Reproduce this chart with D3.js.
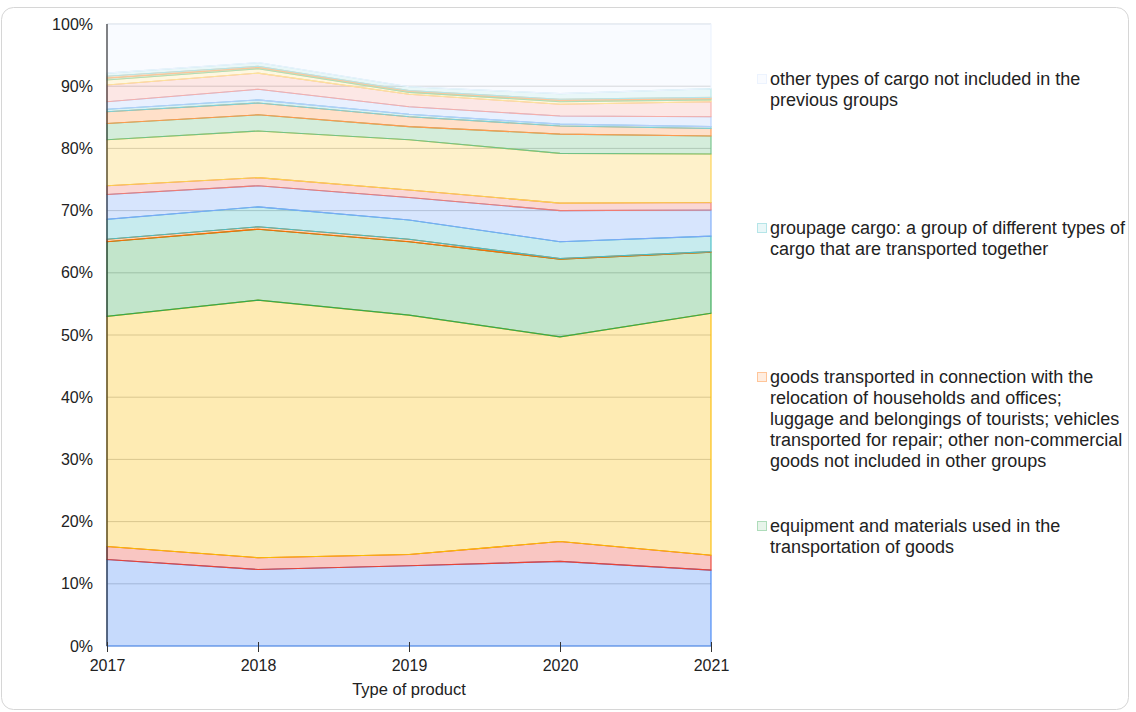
<!DOCTYPE html>
<html>
<head>
<meta charset="utf-8">
<script src="https://cdn.jsdelivr.net/npm/d3@7"></script>
<style>
  body { margin: 0; background: #fff; font-family: "Liberation Sans", Arial, sans-serif; }
  svg text { fill: #222; }
</style>
</head>
<body>
<svg id="chart" width="1136" height="712"></svg>
<script>
// years on the x axis
var years = [2017, 2018, 2019, 2020, 2021];

// series, bottom of the stack first
var seriesNames = [
  "products of agriculture, hunting and forestry; fish",
  "coal and lignite; crude petroleum and natural gas",
  "metal ores and other mining and quarrying products",
  "food products, beverages and tobacco",
  "textiles and textile products; leather",
  "wood and products of wood and cork; paper; printed matter",
  "coke and refined petroleum products",
  "chemicals, chemical products and man-made fibres",
  "other non-metallic mineral products",
  "basic metals; fabricated metal products",
  "machinery and equipment",
  "transport equipment",
  "furniture; other manufactured goods",
  "secondary raw materials; municipal and other wastes",
  "mail, parcels",
  "equipment and materials used in the transportation of goods",
  "goods transported in connection with the relocation of households and offices; luggage and belongings of tourists; vehicles transported for repair; other non-commercial goods not included in other groups",
  "groupage cargo: a group of different types of cargo that are transported together",
  "other types of cargo not included in the previous groups"
];

// shares (%) per year, same order as seriesNames
var v2017 = [13.9, 2.1, 37.0, 12.0, 0.4, 3.2, 4.0, 1.4, 7.4, 2.6, 1.9, 0.4, 1.2, 2.7, 0.8, 0.3, 0.3, 0.5, 7.9];
var v2018 = [12.3, 1.9, 41.4, 11.4, 0.4, 3.2, 3.4, 1.3, 7.5, 2.6, 1.9, 0.5, 1.7, 2.6, 0.7, 0.2, 0.2, 0.6, 6.2];
var v2019 = [12.9, 1.8, 38.5, 11.8, 0.4, 3.1, 3.6, 1.2, 8.1, 2.1, 1.6, 0.4, 1.2, 2.0, 0.3, 0.2, 0.1, 0.6, 10.1];
var v2020 = [13.6, 3.2, 32.9, 12.5, 0.1, 2.7, 5.0, 1.2, 8.0, 3.1, 1.3, 0.3, 1.3, 1.9, 0.4, 0.2, 0.2, 0.9, 11.2];
var v2021 = [12.2, 2.4, 38.9, 9.8, 0.1, 2.5, 4.2, 1.2, 7.8, 2.9, 1.2, 0.3, 1.6, 2.4, 0.3, 0.2, 0.2, 1.4, 10.4];

var colors = ["#4285f4", "#ea4335", "#fbbc04", "#34a853", "#ff6d01", "#46bdc6",
              "#7baaf7", "#f07b72", "#fcd04f", "#71c287", "#ff994d", "#7ed1d7",
              "#b3cefb", "#f6aea9", "#fde49b", "#aedcba", "#ffc599", "#b5e5e8", "#ecf3fe"];

// legend only lists the top four series (wrapped as in the picture)
var legendSeries = [18, 17, 16, 15];
var legendLines = [
  ["other types of cargo not included in the", "previous groups"],
  ["groupage cargo: a group of different types of", "cargo that are transported together"],
  ["goods transported in connection with the", "relocation of households and offices;",
   "luggage and belongings of tourists; vehicles", "transported for repair; other non-commercial",
   "goods not included in other groups"],
  ["equipment and materials used in the", "transportation of goods"]
];

var yTicks = [0, 0.1, 0.2, 0.3, 0.4, 0.5, 0.6, 0.7, 0.8, 0.9, 1];

var allValues = [v2017, v2018, v2019, v2020, v2021];
var rows = years.map(function(yr, i) {
  var r = { year: yr };
  seriesNames.forEach(function(n, k) { r[k] = allValues[i][k]; });
  return r;
});

var svg = d3.select("#chart");

// card border
svg.append("rect").attr("x", 1.5).attr("y", 7.5).attr("width", 1127).attr("height", 702)
  .attr("rx", 12).attr("fill", "none").attr("stroke", "#d6d6d6");

var plotL = 107, plotR = 711, plotT = 24, plotB = 646;
var x = d3.scaleLinear().domain([2017, 2021]).range([plotL, plotR]);
var y = d3.scaleLinear().domain([0, 1]).range([plotB, plotT]);

// gridlines
svg.append("g").selectAll("line").data(yTicks).enter().append("line")
  .attr("x1", plotL).attr("x2", plotR)
  .attr("y1", function(d) { return y(d); }).attr("y2", function(d) { return y(d); })
  .attr("stroke", "#cccccc").attr("stroke-width", 1);

var stack = d3.stack().keys(d3.range(seriesNames.length)).offset(d3.stackOffsetExpand);
var layers = stack(rows);

var area = d3.area()
  .x(function(d) { return x(d.data.year); })
  .y0(function(d) { return y(d[0]); })
  .y1(function(d) { return y(d[1]); });

svg.append("g").selectAll("path").data(layers).enter().append("path")
  .attr("d", area)
  .attr("fill", function(d, i) { return colors[i]; })
  .attr("fill-opacity", 0.3)
  .attr("stroke", function(d, i) { return colors[i]; })
  .attr("stroke-width", 1.1);

// y axis labels
var yAxis = d3.axisLeft(y).tickValues(yTicks).tickFormat(d3.format(".0%")).tickSize(0).tickPadding(14);
var gy = svg.append("g").attr("transform", "translate(" + plotL + ",0)").call(yAxis);
gy.select(".domain").remove();
gy.selectAll("text").style("font-size", "16px").style("font-family", "Liberation Sans, Arial, sans-serif").attr("fill", "#222");

svg.append("line").attr("x1", plotL).attr("x2", plotL).attr("y1", plotT).attr("y2", plotB)
  .attr("stroke", "#333").attr("stroke-width", 1.2);

// x axis
var xAxis = d3.axisBottom(x).tickValues(years).tickFormat(d3.format("d")).tickSize(10).tickPadding(8);
var gx = svg.append("g").attr("transform", "translate(0," + (plotB - 4) + ")").call(xAxis);
gx.select(".domain").remove();
gx.selectAll(".tick line").attr("stroke", "#333");
gx.selectAll("text").style("font-size", "16px").style("font-family", "Liberation Sans, Arial, sans-serif").attr("fill", "#222");

svg.append("text").attr("x", (plotL + plotR) / 2).attr("y", 695)
  .attr("text-anchor", "middle").style("font-size", "16.5px").text("Type of product");

// legend
var lg = svg.append("g").selectAll("g").data(legendSeries).enter().append("g")
  .attr("transform", function(d, i) { return "translate(757," + (79 + i * 149) + ")"; });
lg.append("rect").attr("x", 0.5).attr("y", -4.5).attr("width", 9).attr("height", 9)
  .attr("fill", function(d) { return colors[d]; }).attr("fill-opacity", 0.3)
  .attr("stroke", function(d) { return colors[d]; });
lg.append("text").attr("x", 13).attr("y", 0)
  .style("font-size", "18px")
  .selectAll("tspan").data(function(d, i) { return legendLines[i]; }).enter().append("tspan")
  .attr("x", 13).attr("dy", function(d, j) { return j === 0 ? "0.35em" : "21px"; })
  .text(function(d) { return d; });
</script>
</body>
</html>
